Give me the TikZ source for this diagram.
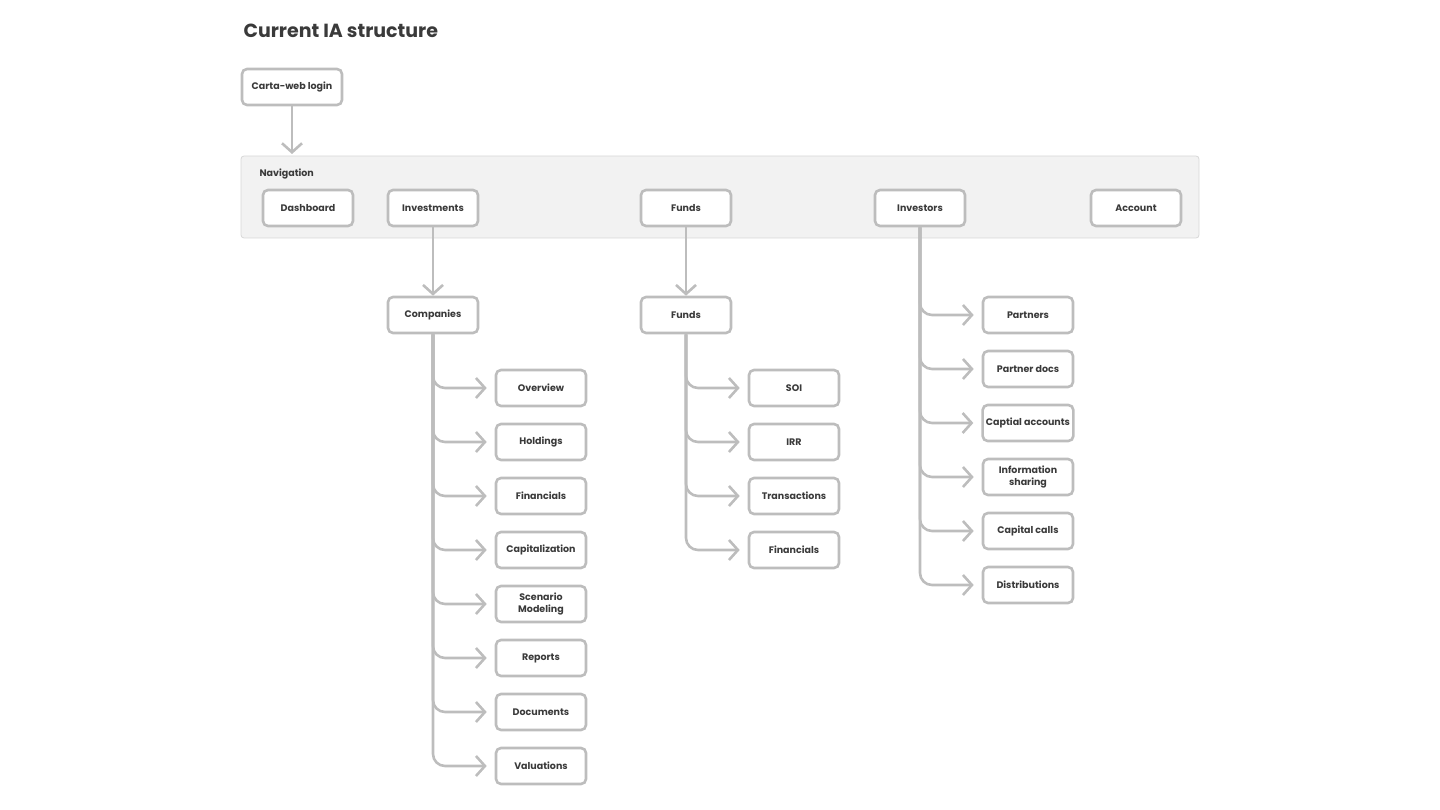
\documentclass[tikz,border=0pt]{standalone}
\usepackage{fontspec}
\setmainfont{Poppins}
\usetikzlibrary{arrows.meta}
\definecolor{boxline}{HTML}{BDBDBD}
\definecolor{panel}{HTML}{F2F2F2}
\definecolor{txt}{HTML}{3A3A3A}
\tikzset{
  page/.style={x=1pt,y=-1pt},
  box/.style={draw=boxline,line width=2.6pt,rounded corners=5pt,fill=white,
    minimum width=90pt,minimum height=36pt,align=center,text=txt,
    font=\fontsize{9.5}{12}\selectfont\bfseries},
  link/.style={draw=boxline,line width=2.6pt,rounded corners=12pt,
    -{Straight Barb[length=9pt,width=20pt,line width=2.6pt]}}
}
\begin{document}
\begin{tikzpicture}[page]
  \useasboundingbox (0,0) rectangle (1440,810);
  \node[anchor=west,text=txt,font=\fontsize{19}{22}\selectfont\bfseries] (title) at (240,31) {Current IA structure};
  \node[box,minimum width=100pt] (login) at (292,87) {Carta-web login};
  % navigation panel
  \draw[draw=boxline!60,fill=panel,rounded corners=3pt,line width=0.8pt] (241,156) rectangle (1199,238);
  \coordinate (navtop) at (292,154);
  \node[anchor=west,text=txt,font=\fontsize{9.5}{12}\selectfont\bfseries] (navlabel) at (256,174) {Navigation};
  \node[box] (dash) at (308,208) {Dashboard};
  \node[box] (inv) at (433,208) {Investments};
  \node[box] (funds) at (686,208) {Funds};
  \node[box] (investors) at (920,208) {Investors};
  \node[box] (account) at (1136,208) {Account};
  \draw[link] (login) -- (navtop);
  % second level
  \node[box] (comp) at (433,315) {Companies};
  \node[box] (fund) at (686,315) {Funds};
  \draw[link] (inv) -- (comp);
  \draw[link] (funds) -- (fund);
  % companies
  \foreach \name [count=\i] in {Overview,Holdings,Financials,Capitalization,Scenario\\Modeling,Reports,Documents,Valuations}
    \node[box] (c\i) at (541,334+54*\i) {\name};
  \foreach \i in {1,...,8}
    \draw[link] (comp.south) |- ([xshift=-8pt]c\i.west);
  % funds
  \foreach \name [count=\i] in {SOI,IRR,Transactions,Financials}
    \node[box] (f\i) at (794,334+54*\i) {\name};
  \foreach \i in {1,...,4}
    \draw[link] (fund.south) |- ([xshift=-8pt]f\i.west);
  % investors
  \foreach \name [count=\i] in {Partners,Partner docs,Captial accounts,Information\\sharing,Capital calls,Distributions}
    \node[box] (p\i) at (1028,261+54*\i) {\name};
  \foreach \i in {1,...,6}
    \draw[link] (investors.south) |- ([xshift=-8pt]p\i.west);
\end{tikzpicture}
\end{document}
